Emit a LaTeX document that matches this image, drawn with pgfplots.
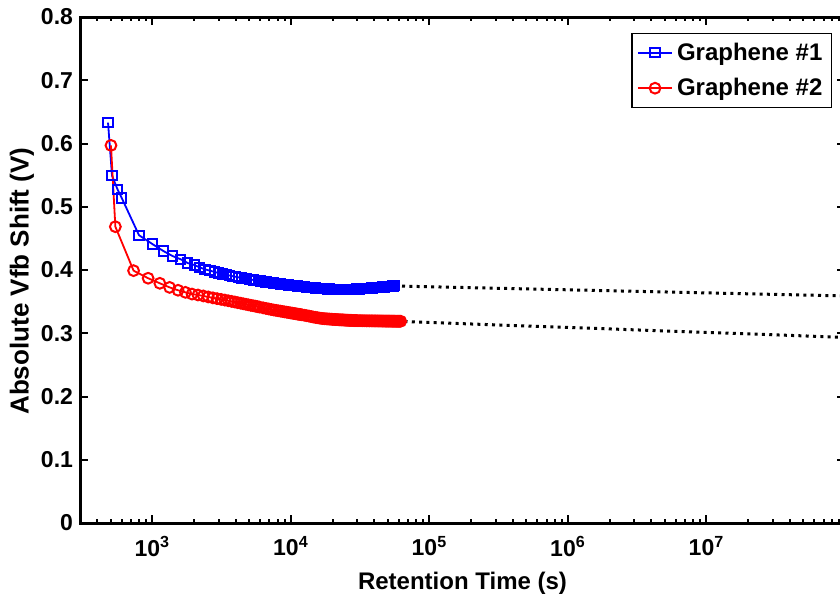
\documentclass[border=0pt]{standalone}
\usepackage{fontspec}
\setmainfont{Liberation Sans}
\usepackage{pgfplots}
\pgfplotsset{compat=1.18}
\definecolor{mblue}{RGB}{0,0,255}
\definecolor{mred}{RGB}{255,0,0}
\pgfplotstableread{
t v
478 0.633
511 0.549
561 0.527
600 0.514
800 0.455
1000 0.441
1200 0.430
1400 0.422
1600 0.417
1800 0.411
2000 0.408
2200 0.404
2400 0.401
2600 0.399
2800 0.397
3000 0.3953
3200 0.3938
3400 0.3925
3600 0.3913
3800 0.3902
4000 0.3892
4200 0.3883
4400 0.3875
4600 0.3867
4800 0.3860
5000 0.3853
5200 0.3847
5400 0.3841
5600 0.3835
5800 0.3830
6000 0.3825
6300 0.3818
6600 0.3811
6900 0.3805
7200 0.3799
7500 0.3794
7800 0.3789
8100 0.3784
8400 0.3779
8700 0.3775
9000 0.3771
9300 0.3767
9600 0.3763
9900 0.3759
10200 0.3756
10500 0.3752
10800 0.3749
11100 0.3746
11400 0.3743
11700 0.3740
12000 0.3737
12500 0.3733
13000 0.3729
13500 0.3725
14000 0.3721
14500 0.3718
15000 0.3715
15500 0.3712
16000 0.3710
16500 0.3708
17000 0.3706
17500 0.3704
18000 0.3702
18500 0.3700
19000 0.3699
19500 0.3698
20000 0.3697
20500 0.3696
21000 0.3695
21500 0.3694
22000 0.3693
22500 0.3693
23000 0.3692
23500 0.3692
24000 0.3692
24500 0.3692
25000 0.3692
25500 0.3692
26000 0.3692
26500 0.3693
27000 0.3693
27500 0.3694
28000 0.3695
28500 0.3696
29000 0.3697
29500 0.3698
30000 0.3699
31000 0.3700
32000 0.3702
33000 0.3704
34000 0.3706
35000 0.3708
36000 0.3710
37000 0.3712
38000 0.3714
39000 0.3716
40000 0.3718
41000 0.3720
42000 0.3722
43000 0.3724
44000 0.3726
45000 0.3728
46000 0.3730
47000 0.3732
48000 0.3734
49000 0.3736
50000 0.3738
51000 0.3740
52000 0.3742
53000 0.3744
54000 0.3746
55000 0.3748
56000 0.3750
}\gone
\pgfplotstableread{
t v
502 0.597
540 0.4685
731 0.399
931 0.387
1131 0.379
1331 0.3725
1531 0.368
1731 0.3647
1931 0.362
2131 0.3605
2331 0.359
2531 0.3574
2731 0.356
2931 0.3547
3131 0.3536
3331 0.3525
3531 0.3514
3731 0.3504
3931 0.3494
4131 0.3484
4331 0.3475
4531 0.3466
4731 0.3458
4931 0.345
5131 0.3442
5331 0.3435
5531 0.3428
5731 0.3421
5931 0.3414
6300 0.3402
6600 0.3393
6900 0.3384
7200 0.3376
7500 0.3368
7800 0.3362
8100 0.3356
8400 0.335
8700 0.3344
9000 0.3338
9300 0.3333
9600 0.3328
9900 0.3322
10200 0.3318
10500 0.3313
10800 0.3309
11100 0.3304
11400 0.3300
11700 0.3296
12000 0.3292
12500 0.3285
13000 0.3278
13500 0.3271
14000 0.3264
14500 0.3257
15000 0.3251
15500 0.3246
16000 0.3241
16500 0.3236
17000 0.3233
17500 0.3230
18000 0.3228
18500 0.3226
19000 0.3224
19500 0.3222
20000 0.3220
20500 0.3218
21000 0.3217
21500 0.3216
22000 0.3214
22500 0.3213
23000 0.3212
23500 0.3211
24000 0.3210
24500 0.3208
25000 0.3207
25500 0.3206
26000 0.3205
26500 0.3204
27000 0.3204
27500 0.3203
28000 0.3202
28500 0.3201
29000 0.3201
29500 0.3200
30000 0.3200
31000 0.3199
32000 0.3199
33000 0.3198
34000 0.3198
35000 0.3197
36000 0.3197
37000 0.3196
38000 0.3196
39000 0.3196
40000 0.3195
41000 0.3195
42000 0.3195
43000 0.3194
44000 0.3194
45000 0.3194
46000 0.3193
47000 0.3193
48000 0.3193
49000 0.3192
50000 0.3192
51000 0.3192
52000 0.3192
53000 0.3191
54000 0.3191
55000 0.3191
56000 0.3191
57000 0.3190
58000 0.3190
59000 0.3190
60000 0.3190
61000 0.3190
62000 0.3190
}\gtwo
\begin{document}
\begin{tikzpicture}
\begin{axis}[
  scale only axis, width=382.5pt, height=253pt,
  at={(0,0)}, anchor=south west,
  xmode=log, xmin=300, xmax=1e8, ymin=0, ymax=0.8,
  ytick={0,0.1,0.2,0.3,0.4,0.5,0.6,0.7,0.8},
  yticklabels={0,0.1,0.2,0.3,0.4,0.5,0.6,0.7,0.8},
  xtick={1e3,1e4,1e5,1e6,1e7},
  xticklabels={10\textsuperscript{3},10\textsuperscript{4},10\textsuperscript{5},10\textsuperscript{6},10\textsuperscript{7}},
  minor xtick={400,500,600,700,800,900,2000,3000,4000,5000,6000,7000,8000,9000,20000,30000,40000,50000,60000,70000,80000,90000,200000,300000,400000,500000,600000,700000,800000,900000,2000000,3000000,4000000,5000000,6000000,7000000,8000000,9000000,20000000,30000000,40000000,50000000,60000000,70000000,80000000,90000000},
  tick align=inside, xtick pos=both, ytick pos=both,
  axis line style={line width=1.5pt},
  major tick length=4pt, minor tick length=2pt,
  every tick/.style={black, line width=1pt},
  tick label style={font=\fontsize{11.5}{13}\selectfont\bfseries},
  xticklabel style={yshift=-3pt},
  xlabel={Retention Time (s)}, ylabel={Absolute Vfb Shift (V)},
  xlabel style={font=\fontsize{12}{14}\selectfont\bfseries, yshift=-1pt},
  ylabel style={font=\fontsize{13}{15}\selectfont\bfseries,
    at={(axis description cs:-0.0758,0.478)}, anchor=center},
  legend style={at={(1,1)}, anchor=north east, xshift=-6.5pt, yshift=-8pt,
    draw=black, line width=0.6pt, font=\fontsize{12}{14}\selectfont\bfseries,
    inner sep=2.5pt, row sep=3.5pt},
  legend cell align=left,
]
\addplot[mblue, line width=0.9pt, mark=square, mark size=2.3pt, mark options={solid, line width=1pt}] table[x=t, y=v] {\gone};
\addlegendentry{Graphene \#1}
\addplot[mred, line width=0.9pt, mark=o, mark size=2.7pt, mark options={solid, line width=1pt}] table[x=t, y=v] {\gtwo};
\addlegendentry{Graphene \#2}
\addplot[black, line width=1.5pt, dash pattern=on 1.5pt off 2.15pt, forget plot] coordinates {(39000,0.3755) (1e8,0.359)};
\addplot[black, line width=1.5pt, dash pattern=on 1.5pt off 2.15pt, forget plot] coordinates {(36000,0.3205) (1e8,0.2935)};
\end{axis}
\pgfresetboundingbox
\path[use as bounding box] (-40pt,-38.5pt) rectangle (380pt,261.5pt);
\end{tikzpicture}
\end{document}
